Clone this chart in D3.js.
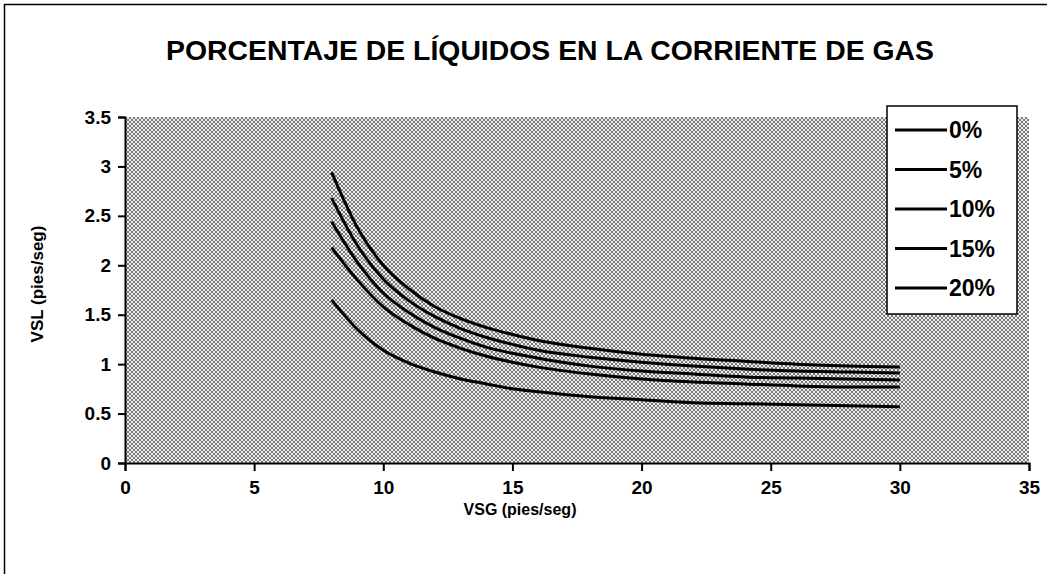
<!DOCTYPE html>
<html>
<head>
<meta charset="utf-8">
<script src="https://cdn.jsdelivr.net/npm/d3@7"></script>
<style>
  body { margin: 0; background: #fff; }
  text { font-family: "Liberation Sans", Arial, sans-serif; font-weight: bold; fill: #000; }
</style>
</head>
<body>
<div id="chart"></div>
<script>
// data
const vsg = [8, 9, 10, 11, 12, 13, 14, 15, 16, 18, 20, 22, 24, 26, 28, 30]
const series = ['0%', '5%', '10%', '15%', '20%']
const vsl0 = [1.65, 1.35, 1.14, 1.01, 0.92, 0.85, 0.8, 0.75, 0.72, 0.67, 0.64, 0.61, 0.6, 0.59, 0.58, 0.57]
const vsl5 = [2.18, 1.85, 1.58, 1.4, 1.26, 1.16, 1.08, 1.02, 0.97, 0.9, 0.85, 0.82, 0.8, 0.78, 0.77, 0.77]
const vsl10 = [2.44, 2.03, 1.72, 1.52, 1.37, 1.26, 1.17, 1.11, 1.06, 0.98, 0.93, 0.9, 0.87, 0.86, 0.85, 0.84]
const vsl15 = [2.68, 2.2, 1.86, 1.64, 1.48, 1.36, 1.27, 1.2, 1.14, 1.07, 1.02, 0.98, 0.95, 0.93, 0.92, 0.91]
const vsl20 = [2.94, 2.38, 2.0, 1.76, 1.58, 1.46, 1.37, 1.3, 1.24, 1.16, 1.1, 1.06, 1.03, 1.0, 0.98, 0.97]
const xTicks = [0, 5, 10, 15, 20, 25, 30, 35]
const yTicks = [0, 0.5, 1, 1.5, 2, 2.5, 3, 3.5]

const allSeries = [vsl0, vsl5, vsl10, vsl15, vsl20]

const margin = { top: 117, left: 125, right: 18, bottom: 111 }
const W = 1047
const H = 574
const width = W - margin.left - margin.right
const height = H - margin.top - margin.bottom

const root = d3
  .select('#chart')
  .append('svg')
  .attr('width', W)
  .attr('height', H)

// halftone look of the plot background
const defs = root.append('defs')
const pat = defs
  .append('pattern')
  .attr('id', 'dots')
  .attr('width', 4)
  .attr('height', 4)
  .attr('patternUnits', 'userSpaceOnUse')
pat.append('rect').attr('width', 4).attr('height', 4).attr('fill', '#eeeeee')
pat.append('rect').attr('x', 0).attr('y', 0).attr('width', 2).attr('height', 2).attr('fill', '#7a7a7a')
pat.append('rect').attr('x', 2).attr('y', 2).attr('width', 2).attr('height', 2).attr('fill', '#7a7a7a')

// outer frame
root
  .append('rect')
  .attr('x', 4.5)
  .attr('y', 4.5)
  .attr('width', W + 10)
  .attr('height', H + 10)
  .attr('fill', 'none')
  .attr('stroke', '#000')
  .attr('stroke-width', 1.5)

root
  .append('text')
  .attr('x', 550)
  .attr('y', 60)
  .attr('text-anchor', 'middle')
  .attr('font-size', 27)
  .attr('textLength', 768)
  .attr('lengthAdjust', 'spacingAndGlyphs')
  .text('PORCENTAJE DE LÍQUIDOS EN LA CORRIENTE DE GAS')

const svg = root
  .append('g')
  .attr('transform', 'translate(' + margin.left + ',' + margin.top + ')')

const xPositionScale = d3.scaleLinear().domain([0, 35]).range([0, width])
const yPositionScale = d3.scaleLinear().domain([0, 3.5]).range([height, 0])

svg
  .append('rect')
  .attr('width', width)
  .attr('height', height)
  .attr('fill', 'url(#dots)')

const line = d3
  .line()
  .x((d, i) => xPositionScale(vsg[i]))
  .y(d => yPositionScale(d))
  .curve(d3.curveMonotoneX)

svg
  .selectAll('.curve')
  .data(allSeries)
  .enter()
  .append('path')
  .attr('class', 'curve')
  .attr('d', line)
  .attr('fill', 'none')
  .attr('stroke', '#000')
  .attr('stroke-width', 3)

const xAxis = d3
  .axisBottom(xPositionScale)
  .tickValues(xTicks)
  .tickSize(8)
  .tickPadding(10)
  .tickFormat(d3.format('d'))
svg
  .append('g')
  .attr('class', 'axis x-axis')
  .attr('transform', 'translate(0,' + height + ')')
  .call(xAxis)

const yAxis = d3
  .axisLeft(yPositionScale)
  .tickValues(yTicks)
  .tickSize(7)
  .tickPadding(7)
  .tickFormat(d => String(d))
svg.append('g').attr('class', 'axis y-axis').call(yAxis)

svg.selectAll('.axis .domain').attr('stroke', '#000').attr('stroke-width', 2)
svg.selectAll('.axis .tick line').attr('stroke', '#000').attr('stroke-width', 2)
svg
  .selectAll('.axis text')
  .attr('font-size', 19)
  .attr('font-family', '"Liberation Sans", Arial, sans-serif')
  .attr('font-weight', 'bold')
  .attr('fill', '#000')

svg
  .append('text')
  .attr('x', 395)
  .attr('y', height + 52)
  .attr('text-anchor', 'middle')
  .attr('font-size', 16)
  .text('VSG (pies/seg)')

svg
  .append('text')
  .attr('transform', 'translate(-82,' + (height / 2 - 6) + ') rotate(-90)')
  .attr('text-anchor', 'middle')
  .attr('font-size', 17)
  .text('VSL (pies/seg)')

// legend
const legend = root.append('g').attr('transform', 'translate(887,106)')
legend
  .append('rect')
  .attr('width', 130)
  .attr('height', 208)
  .attr('fill', '#fff')
  .attr('stroke', '#000')
  .attr('stroke-width', 1.5)

const items = legend
  .selectAll('.item')
  .data(series)
  .enter()
  .append('g')
  .attr('class', 'item')
  .attr('transform', (d, i) => 'translate(0,' + (24 + i * 39.5) + ')')

items
  .append('line')
  .attr('x1', 8)
  .attr('x2', 60)
  .attr('stroke', '#000')
  .attr('stroke-width', 3)

items
  .append('text')
  .attr('x', 62)
  .attr('dy', '0.36em')
  .attr('font-size', 23)
  .text(d => d)
</script>
</body>
</html>
